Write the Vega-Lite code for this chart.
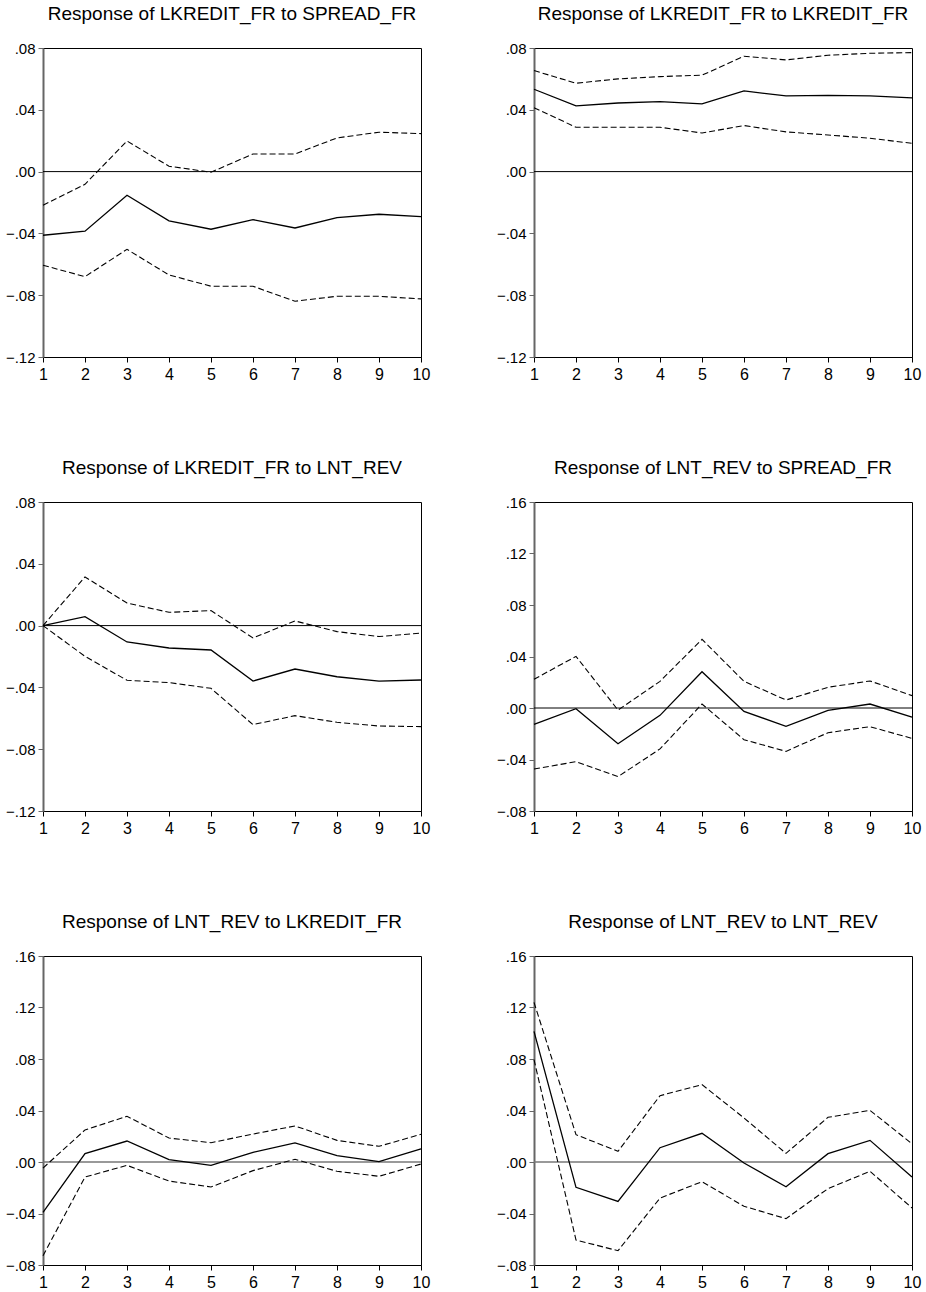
{
  "$schema": "https://vega.github.io/schema/vega-lite/v6.json",
  "background": "white",
  "padding": {"left": 4, "top": 4, "right": 5, "bottom": 2},
  "datasets": {
    "irf": [
      {"panel": 1, "step": 1, "resp": -0.0412, "upper": -0.0218, "lower": -0.0606},
      {"panel": 1, "step": 2, "resp": -0.0386, "upper": -0.0082, "lower": -0.068},
      {"panel": 1, "step": 3, "resp": -0.0153, "upper": 0.0198, "lower": -0.0503},
      {"panel": 1, "step": 4, "resp": -0.0319, "upper": 0.0035, "lower": -0.0669},
      {"panel": 1, "step": 5, "resp": -0.0373, "upper": -0.0004, "lower": -0.0742},
      {"panel": 1, "step": 6, "resp": -0.0311, "upper": 0.0114, "lower": -0.0742},
      {"panel": 1, "step": 7, "resp": -0.0365, "upper": 0.0114, "lower": -0.0839},
      {"panel": 1, "step": 8, "resp": -0.0298, "upper": 0.0218, "lower": -0.0807},
      {"panel": 1, "step": 9, "resp": -0.0276, "upper": 0.0255, "lower": -0.0807},
      {"panel": 1, "step": 10, "resp": -0.0291, "upper": 0.0246, "lower": -0.0824},
      {"panel": 2, "step": 1, "resp": 0.0533, "upper": 0.0654, "lower": 0.0414},
      {"panel": 2, "step": 2, "resp": 0.0425, "upper": 0.0572, "lower": 0.0287},
      {"panel": 2, "step": 3, "resp": 0.0444, "upper": 0.06, "lower": 0.0287},
      {"panel": 2, "step": 4, "resp": 0.0453, "upper": 0.0615, "lower": 0.0287},
      {"panel": 2, "step": 5, "resp": 0.0438, "upper": 0.0624, "lower": 0.025},
      {"panel": 2, "step": 6, "resp": 0.0522, "upper": 0.0747, "lower": 0.0298},
      {"panel": 2, "step": 7, "resp": 0.049, "upper": 0.0723, "lower": 0.0257},
      {"panel": 2, "step": 8, "resp": 0.0494, "upper": 0.0753, "lower": 0.0237},
      {"panel": 2, "step": 9, "resp": 0.049, "upper": 0.0766, "lower": 0.0216},
      {"panel": 2, "step": 10, "resp": 0.0477, "upper": 0.077, "lower": 0.0183},
      {"panel": 3, "step": 1, "resp": 0.0, "upper": 0.0, "lower": 0.0},
      {"panel": 3, "step": 2, "resp": 0.0058, "upper": 0.0315, "lower": -0.0199},
      {"panel": 3, "step": 3, "resp": -0.0106, "upper": 0.0146, "lower": -0.0354},
      {"panel": 3, "step": 4, "resp": -0.0145, "upper": 0.0086, "lower": -0.0369},
      {"panel": 3, "step": 5, "resp": -0.0158, "upper": 0.0097, "lower": -0.0406},
      {"panel": 3, "step": 6, "resp": -0.0359, "upper": -0.008, "lower": -0.0641},
      {"panel": 3, "step": 7, "resp": -0.0281, "upper": 0.003, "lower": -0.0583},
      {"panel": 3, "step": 8, "resp": -0.0331, "upper": -0.0039, "lower": -0.0626},
      {"panel": 3, "step": 9, "resp": -0.0359, "upper": -0.0071, "lower": -0.065},
      {"panel": 3, "step": 10, "resp": -0.0352, "upper": -0.0048, "lower": -0.0654},
      {"panel": 4, "step": 1, "resp": -0.0127, "upper": 0.0223, "lower": -0.0474},
      {"panel": 4, "step": 2, "resp": -0.0005, "upper": 0.0401, "lower": -0.0417},
      {"panel": 4, "step": 3, "resp": -0.0277, "upper": -0.0016, "lower": -0.0533},
      {"panel": 4, "step": 4, "resp": -0.0057, "upper": 0.0207, "lower": -0.0318},
      {"panel": 4, "step": 5, "resp": 0.0282, "upper": 0.0533, "lower": 0.0031},
      {"panel": 4, "step": 6, "resp": -0.0026, "upper": 0.0207, "lower": -0.0246},
      {"panel": 4, "step": 7, "resp": -0.0142, "upper": 0.0062, "lower": -0.0337},
      {"panel": 4, "step": 8, "resp": -0.0018, "upper": 0.0161, "lower": -0.0192},
      {"panel": 4, "step": 9, "resp": 0.0031, "upper": 0.021, "lower": -0.0145},
      {"panel": 4, "step": 10, "resp": -0.007, "upper": 0.0096, "lower": -0.0236},
      {"panel": 5, "step": 1, "resp": -0.0391, "upper": -0.0047, "lower": -0.0728},
      {"panel": 5, "step": 2, "resp": 0.0065, "upper": 0.0249, "lower": -0.0117},
      {"panel": 5, "step": 3, "resp": 0.0163, "upper": 0.0355, "lower": -0.0026},
      {"panel": 5, "step": 4, "resp": 0.0018, "upper": 0.0186, "lower": -0.0148},
      {"panel": 5, "step": 5, "resp": -0.0026, "upper": 0.015, "lower": -0.0194},
      {"panel": 5, "step": 6, "resp": 0.0075, "upper": 0.0217, "lower": -0.0067},
      {"panel": 5, "step": 7, "resp": 0.0148, "upper": 0.028, "lower": 0.0021},
      {"panel": 5, "step": 8, "resp": 0.0049, "upper": 0.0168, "lower": -0.0072},
      {"panel": 5, "step": 9, "resp": 0.0003, "upper": 0.0122, "lower": -0.0111},
      {"panel": 5, "step": 10, "resp": 0.0101, "upper": 0.0215, "lower": -0.0016},
      {"panel": 6, "step": 1, "resp": 0.1015, "upper": 0.124, "lower": 0.0795},
      {"panel": 6, "step": 2, "resp": -0.0197, "upper": 0.0212, "lower": -0.0606},
      {"panel": 6, "step": 3, "resp": -0.0306, "upper": 0.0083, "lower": -0.0689},
      {"panel": 6, "step": 4, "resp": 0.0111, "upper": 0.0515, "lower": -0.028},
      {"panel": 6, "step": 5, "resp": 0.0223, "upper": 0.0601, "lower": -0.0153},
      {"panel": 6, "step": 6, "resp": -0.0008, "upper": 0.0342, "lower": -0.0344},
      {"panel": 6, "step": 7, "resp": -0.0192, "upper": 0.0067, "lower": -0.044},
      {"panel": 6, "step": 8, "resp": 0.0065, "upper": 0.0347, "lower": -0.0207},
      {"panel": 6, "step": 9, "resp": 0.0168, "upper": 0.0401, "lower": -0.0072},
      {"panel": 6, "step": 10, "resp": -0.0117, "upper": 0.0142, "lower": -0.0357}
    ]
  },
  "config": {
    "font": "Liberation Sans",
    "view": {"stroke": "black", "strokeWidth": 1},
    "title": {"font": "Liberation Sans", "fontSize": 19, "fontWeight": "normal", "color": "black", "anchor": "middle", "baseline": "alphabetic", "offset": 17},
    "axis": {"grid": false, "labelFont": "Liberation Sans", "labelFontSize": 15, "labelColor": "black", "tickColor": "black", "tickSize": 5, "domainColor": "black", "title": null, "labelFlush": false, "labelOverlap": false},
    "axisY": {"domainColor": "#666666", "domainWidth": 2, "labelPadding": 3, "tickColor": "#666666"},
    "axisX": {"labelPadding": 4, "labelFontSize": 16}
  },
  "columns": 2,
  "spacing": {"row": 145, "column": 113},
  "bounds": "flush",
  "concat": [
    {
      "title": "Response of LKREDIT_FR to SPREAD_FR",
      "width": 378, "height": 309,
      "data": {"name": "irf"},
      "transform": [{"filter": "datum.panel == 1"}],
      "encoding": {
        "x": {"field": "step", "type": "quantitative", "scale": {"domain": [1, 10], "nice": false, "zero": false}, "axis": {"values": [1,2,3,4,5,6,7,8,9,10], "format": "d"}}
      },
      "layer": [
        {"transform": [{"filter": "datum.step == 1"}], "mark": {"type": "rule", "color": "black", "strokeWidth": 1}, "encoding": {"x": null, "y": {"datum": 0, "type": "quantitative"}}},
        {"mark": {"type": "line", "color": "black", "strokeWidth": 1.3}, "encoding": {"y": {"field": "resp", "type": "quantitative", "scale": {"domain": [-0.12, 0.08], "nice": false, "zero": false}, "axis": {"values": [-0.12, -0.08, -0.04, 0, 0.04, 0.08], "labelExpr": "replace(format(datum.value, '.2f'), '0.', '.')"}}}},
        {"mark": {"type": "line", "color": "black", "strokeWidth": 1.1, "strokeDash": [6, 3]}, "encoding": {"y": {"field": "upper", "type": "quantitative"}}},
        {"mark": {"type": "line", "color": "black", "strokeWidth": 1.1, "strokeDash": [6, 3]}, "encoding": {"y": {"field": "lower", "type": "quantitative"}}}
      ]
    },
    {
      "title": "Response of LKREDIT_FR to LKREDIT_FR",
      "width": 378, "height": 309,
      "data": {"name": "irf"},
      "transform": [{"filter": "datum.panel == 2"}],
      "encoding": {
        "x": {"field": "step", "type": "quantitative", "scale": {"domain": [1, 10], "nice": false, "zero": false}, "axis": {"values": [1,2,3,4,5,6,7,8,9,10], "format": "d"}}
      },
      "layer": [
        {"transform": [{"filter": "datum.step == 1"}], "mark": {"type": "rule", "color": "black", "strokeWidth": 1}, "encoding": {"x": null, "y": {"datum": 0, "type": "quantitative"}}},
        {"mark": {"type": "line", "color": "black", "strokeWidth": 1.3}, "encoding": {"y": {"field": "resp", "type": "quantitative", "scale": {"domain": [-0.12, 0.08], "nice": false, "zero": false}, "axis": {"values": [-0.12, -0.08, -0.04, 0, 0.04, 0.08], "labelExpr": "replace(format(datum.value, '.2f'), '0.', '.')"}}}},
        {"mark": {"type": "line", "color": "black", "strokeWidth": 1.1, "strokeDash": [6, 3]}, "encoding": {"y": {"field": "upper", "type": "quantitative"}}},
        {"mark": {"type": "line", "color": "black", "strokeWidth": 1.1, "strokeDash": [6, 3]}, "encoding": {"y": {"field": "lower", "type": "quantitative"}}}
      ]
    },
    {
      "title": "Response of LKREDIT_FR to LNT_REV",
      "width": 378, "height": 309,
      "data": {"name": "irf"},
      "transform": [{"filter": "datum.panel == 3"}],
      "encoding": {
        "x": {"field": "step", "type": "quantitative", "scale": {"domain": [1, 10], "nice": false, "zero": false}, "axis": {"values": [1,2,3,4,5,6,7,8,9,10], "format": "d"}}
      },
      "layer": [
        {"transform": [{"filter": "datum.step == 1"}], "mark": {"type": "rule", "color": "black", "strokeWidth": 1}, "encoding": {"x": null, "y": {"datum": 0, "type": "quantitative"}}},
        {"mark": {"type": "line", "color": "black", "strokeWidth": 1.3}, "encoding": {"y": {"field": "resp", "type": "quantitative", "scale": {"domain": [-0.12, 0.08], "nice": false, "zero": false}, "axis": {"values": [-0.12, -0.08, -0.04, 0, 0.04, 0.08], "labelExpr": "replace(format(datum.value, '.2f'), '0.', '.')"}}}},
        {"mark": {"type": "line", "color": "black", "strokeWidth": 1.1, "strokeDash": [6, 3]}, "encoding": {"y": {"field": "upper", "type": "quantitative"}}},
        {"mark": {"type": "line", "color": "black", "strokeWidth": 1.1, "strokeDash": [6, 3]}, "encoding": {"y": {"field": "lower", "type": "quantitative"}}}
      ]
    },
    {
      "title": "Response of LNT_REV to SPREAD_FR",
      "width": 378, "height": 309,
      "data": {"name": "irf"},
      "transform": [{"filter": "datum.panel == 4"}],
      "encoding": {
        "x": {"field": "step", "type": "quantitative", "scale": {"domain": [1, 10], "nice": false, "zero": false}, "axis": {"values": [1,2,3,4,5,6,7,8,9,10], "format": "d"}}
      },
      "layer": [
        {"transform": [{"filter": "datum.step == 1"}], "mark": {"type": "rule", "color": "black", "strokeWidth": 1}, "encoding": {"x": null, "y": {"datum": 0, "type": "quantitative"}}},
        {"mark": {"type": "line", "color": "black", "strokeWidth": 1.3}, "encoding": {"y": {"field": "resp", "type": "quantitative", "scale": {"domain": [-0.08, 0.16], "nice": false, "zero": false}, "axis": {"values": [-0.08, -0.04, 0, 0.04, 0.08, 0.12, 0.16], "labelExpr": "replace(format(datum.value, '.2f'), '0.', '.')"}}}},
        {"mark": {"type": "line", "color": "black", "strokeWidth": 1.1, "strokeDash": [6, 3]}, "encoding": {"y": {"field": "upper", "type": "quantitative"}}},
        {"mark": {"type": "line", "color": "black", "strokeWidth": 1.1, "strokeDash": [6, 3]}, "encoding": {"y": {"field": "lower", "type": "quantitative"}}}
      ]
    },
    {
      "title": "Response of LNT_REV to LKREDIT_FR",
      "width": 378, "height": 309,
      "data": {"name": "irf"},
      "transform": [{"filter": "datum.panel == 5"}],
      "encoding": {
        "x": {"field": "step", "type": "quantitative", "scale": {"domain": [1, 10], "nice": false, "zero": false}, "axis": {"values": [1,2,3,4,5,6,7,8,9,10], "format": "d"}}
      },
      "layer": [
        {"transform": [{"filter": "datum.step == 1"}], "mark": {"type": "rule", "color": "#777777", "strokeWidth": 1.5}, "encoding": {"x": null, "y": {"datum": 0, "type": "quantitative"}}},
        {"mark": {"type": "line", "color": "black", "strokeWidth": 1.3}, "encoding": {"y": {"field": "resp", "type": "quantitative", "scale": {"domain": [-0.08, 0.16], "nice": false, "zero": false}, "axis": {"values": [-0.08, -0.04, 0, 0.04, 0.08, 0.12, 0.16], "labelExpr": "replace(format(datum.value, '.2f'), '0.', '.')"}}}},
        {"mark": {"type": "line", "color": "black", "strokeWidth": 1.1, "strokeDash": [6, 3]}, "encoding": {"y": {"field": "upper", "type": "quantitative"}}},
        {"mark": {"type": "line", "color": "black", "strokeWidth": 1.1, "strokeDash": [6, 3]}, "encoding": {"y": {"field": "lower", "type": "quantitative"}}}
      ]
    },
    {
      "title": "Response of LNT_REV to LNT_REV",
      "width": 378, "height": 309,
      "data": {"name": "irf"},
      "transform": [{"filter": "datum.panel == 6"}],
      "encoding": {
        "x": {"field": "step", "type": "quantitative", "scale": {"domain": [1, 10], "nice": false, "zero": false}, "axis": {"values": [1,2,3,4,5,6,7,8,9,10], "format": "d"}}
      },
      "layer": [
        {"transform": [{"filter": "datum.step == 1"}], "mark": {"type": "rule", "color": "#777777", "strokeWidth": 1.5}, "encoding": {"x": null, "y": {"datum": 0, "type": "quantitative"}}},
        {"mark": {"type": "line", "color": "black", "strokeWidth": 1.3}, "encoding": {"y": {"field": "resp", "type": "quantitative", "scale": {"domain": [-0.08, 0.16], "nice": false, "zero": false}, "axis": {"values": [-0.08, -0.04, 0, 0.04, 0.08, 0.12, 0.16], "labelExpr": "replace(format(datum.value, '.2f'), '0.', '.')"}}}},
        {"mark": {"type": "line", "color": "black", "strokeWidth": 1.1, "strokeDash": [6, 3]}, "encoding": {"y": {"field": "upper", "type": "quantitative"}}},
        {"mark": {"type": "line", "color": "black", "strokeWidth": 1.1, "strokeDash": [6, 3]}, "encoding": {"y": {"field": "lower", "type": "quantitative"}}}
      ]
    }
  ]
}
